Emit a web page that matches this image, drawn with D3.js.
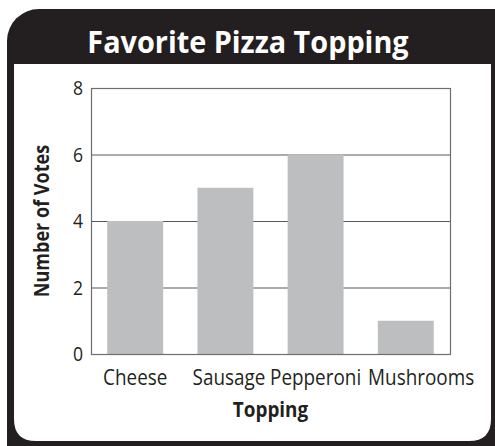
<!DOCTYPE html>
<html><head><meta charset="utf-8">
<script src="https://cdn.jsdelivr.net/npm/d3@7"></script>
<style>html,body{margin:0;padding:0;background:#fff;}</style>
</head><body>
<svg id="c" width="495" height="446"></svg>
<script>
const categories = ["Cheese", "Sausage", "Pepperoni", "Mushrooms"];
const votes = [4, 5, 6, 1];
const yTicks = [0, 2, 4, 6, 8];
const title = "Favorite Pizza Topping";
const xTitle = "Topping";
const yTitle = "Number of Votes";

const svg = d3.select("#c");
const font = "'Open Sans',sans-serif";
const ink = "#231f20";

// frame
svg.append("rect").attr("x", 7).attr("y", 9).attr("width", 520).attr("height", 470)
  .attr("rx", 32).attr("fill", ink);
svg.append("path")
  .attr("d", "M14,64 H491 V419 Q491,441 469,441 H36 Q14,441 14,419 Z")
  .attr("fill", "#fff");
svg.append("text").attr("transform", "translate(248,53) scale(0.93,1)").attr("text-anchor", "middle")
  .attr("fill", "#fff").attr("font-family", font)
  .attr("font-weight", "bold").attr("font-size", 31).text(title);

const m = {l: 91, r: 450, t: 88, b: 354};
const x = d3.scaleBand().domain(categories).range([m.l, m.r]).paddingInner(0.38).paddingOuter(0.18);
const y = d3.scaleLinear().domain([0, 8]).range([m.b, m.t]);

// gridlines
svg.append("g").selectAll("line").data(yTicks).join("line")
  .attr("x1", m.l).attr("x2", m.r).attr("y1", d => y(d) + 0.5).attr("y2", d => y(d) + 0.5)
  .attr("stroke", "#58595b").attr("stroke-width", 1.2);

// bars
svg.append("g").selectAll("rect").data(categories).join("rect")
  .attr("x", d => x(d)).attr("width", x.bandwidth())
  .attr("y", (d, i) => y(votes[i])).attr("height", (d, i) => y(0) - y(votes[i]))
  .attr("fill", "#bcbec0");

// plot border
svg.append("rect").attr("x", m.l + 0.5).attr("y", m.t + 0.5)
  .attr("width", m.r - m.l).attr("height", m.b - m.t)
  .attr("fill", "none").attr("stroke", "#6d6e71").attr("stroke-width", 1.2);

// y axis labels
const yAxis = d3.axisLeft(y).tickValues(yTicks).tickSize(0).tickPadding(9).tickFormat(d3.format("d"));
const ya = svg.append("g").attr("transform", `translate(${m.l},0.5)`).call(yAxis);
ya.select(".domain").remove();
ya.selectAll("text").attr("font-family", font).attr("font-size", 20).attr("fill", ink)
  .attr("transform", "scale(0.88,1)");

const xAxis = d3.axisBottom(x).tickSize(0).tickPadding(16);
const xa = svg.append("g").attr("transform", `translate(0,${m.b})`).call(xAxis);
xa.select(".domain").remove();
xa.selectAll("text").attr("font-family", font).attr("font-size", 21).attr("fill", ink)
  .attr("transform", "scale(0.9,1)")
  .attr("dx", (d, i) => (i === 1 ? 4 : i === categories.length - 1 ? 17 : 0));

svg.append("text").attr("transform", `translate(${(m.l + m.r) / 2},417) scale(0.9,1)`).attr("text-anchor", "middle")
  .attr("font-family", font).attr("font-weight", "bold").attr("font-size", 21)
  .attr("fill", ink).text(xTitle);
svg.append("text").attr("transform", `translate(49,${(140 + 302) / 2}) rotate(-90) scale(0.86,1)`)
  .attr("text-anchor", "middle")
  .attr("font-family", font).attr("font-weight", "bold").attr("font-size", 21)
  .attr("fill", ink).text(yTitle);
</script>
</body></html>
